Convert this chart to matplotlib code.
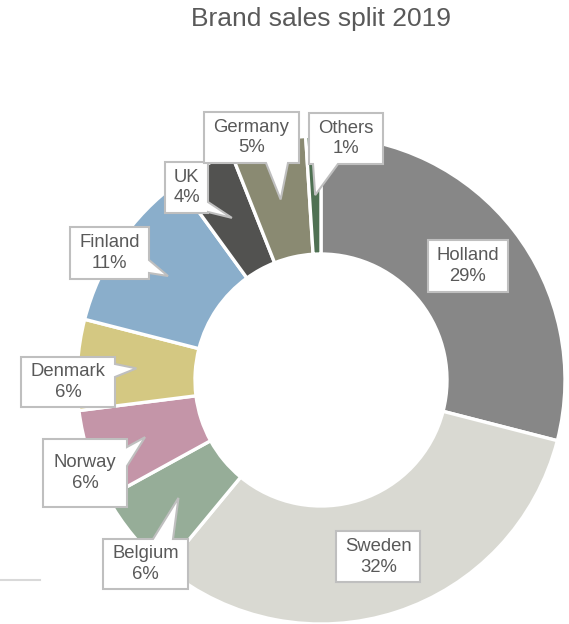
import numpy as np
import matplotlib
matplotlib.use("Agg")
import matplotlib.pyplot as plt
from matplotlib.patches import Polygon

plt.rcParams["font.family"] = ["Liberation Sans", "DejaVu Sans"]

# sales share by market, clockwise from 12 o'clock
countries = ["Holland", "Sweden", "Belgium", "Norway", "Denmark",
             "Finland", "UK", "Germany", "Others"]
shares = [29, 32, 6, 6, 6, 11, 4, 5, 1]
colors = ["#878787", "#d9d9d2", "#96ad98", "#c495a8", "#d4c882",
          "#8aaecb", "#525250", "#8a8a72", "#4f7153"]

W, H = 569, 624
TEXT = "#595959"
BORDER = "#bfbfbf"

fig = plt.figure(figsize=(W / 100, H / 100), dpi=100)
ax = fig.add_axes([0, 0, 1, 1])

cx, cy = 321, H - 380
r_out, r_in = 244, 126
r_mid = (r_out + r_in) / 2

wedges, _ = ax.pie(shares, colors=colors, startangle=90, counterclock=False,
                   radius=r_out, center=(cx, cy),
                   wedgeprops=dict(width=r_out - r_in, edgecolor="white",
                                   linewidth=2.4))
ax.set_xlim(0, W)
ax.set_ylim(0, H)
ax.set_aspect("equal")
ax.axis("off")


def mid_point(w, r):
    a = np.deg2rad((w.theta1 + w.theta2) / 2)
    return cx + r * np.cos(a), cy + r * np.sin(a)


# callout boxes in pixel coords (top-left origin): box, edge with pointer, base span
callouts = {
    "Germany": ((204, 112, 299, 163), "bottom", (266, 288)),
    "Others": ((309, 113, 383, 164), "bottom", (313, 338)),
    "UK": ((165, 162, 208, 213), "right", (202, 212)),
    "Finland": ((70, 227, 149, 279), "right", (260, 273)),
    "Denmark": ((21, 357, 115, 407), "right", (364, 377)),
    "Norway": ((43, 439, 127, 507), "right", (447, 466)),
    "Belgium": ((103, 539, 188, 589), "top", (153, 173)),
}
inside_sizes = {"Holland": (80, 52), "Sweden": (84, 51)}


def to_data(p):
    return p[0], H - p[1]


for w, name, val in zip(wedges, countries, shares):
    label = f"{name}\n{val}%"
    if name in callouts:
        (x0, y0, x1, y1), edge, (b0, b1) = callouts[name]
        tx, ty = mid_point(w, r_mid)
        tip = (tx, H - ty)
        TL, TR, BR, BL = (x0, y0), (x1, y0), (x1, y1), (x0, y1)
        if edge == "top":
            pts = [TL, (b0, y0), tip, (b1, y0), TR, BR, BL]
        elif edge == "right":
            pts = [TL, TR, (x1, b0), tip, (x1, b1), BR, BL]
        else:
            pts = [TL, TR, BR, (b1, y1), tip, (b0, y1), BL]
        ax.add_patch(Polygon([to_data(p) for p in pts], closed=True,
                             fc="white", ec=BORDER, lw=1.5,
                             joinstyle="miter", zorder=3))
        lx, ly = (x0 + x1) / 2, H - (y0 + y1) / 2
    else:
        lx, ly = mid_point(w, r_mid + 1)
        bw, bh = inside_sizes[name]
        ax.add_patch(plt.Rectangle((lx - bw / 2, ly - bh / 2), bw, bh,
                                   fc="white", ec=BORDER, lw=1.5, zorder=3))
    ax.text(lx, ly, label, ha="center", va="center", fontsize=13.3,
            color=TEXT, linespacing=1.25, zorder=4)

ax.text(321, H - 19, "Brand sales split 2019", ha="center", va="center",
        fontsize=19, color=TEXT)
ax.plot([0, 40], [H - 580, H - 580], color="#d9d9d9", lw=1.5)

fig.savefig("out.png", dpi=100)
